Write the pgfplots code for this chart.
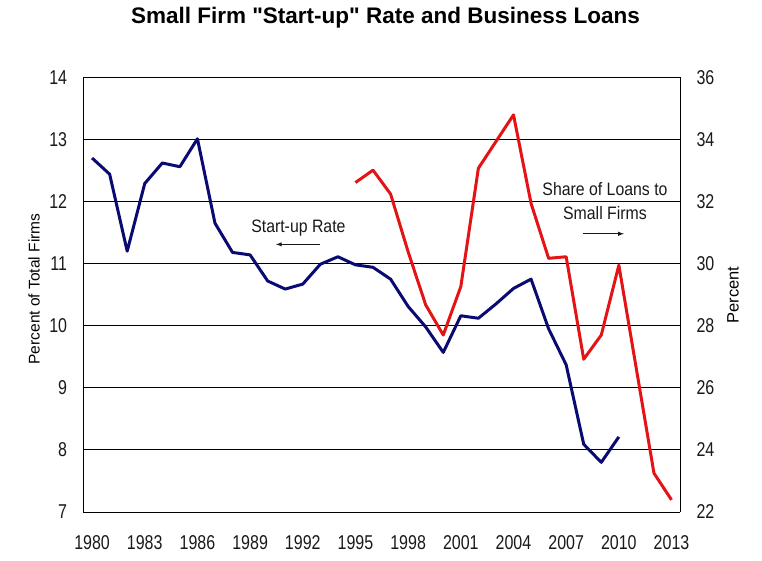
\documentclass[border=0pt]{standalone}
\usepackage{fontspec}
\setmainfont{Liberation Sans}
\newfontfamily\titlefont{Liberation Sans}
\newfontfamily\tickfont[FakeStretch=0.8]{Liberation Sans}
\newfontfamily\notefont[FakeStretch=0.88]{Liberation Sans}
\usepackage{pgfplots}
\pgfplotsset{compat=1.18}
\definecolor{navyline}{RGB}{10,10,115}
\definecolor{redline}{RGB}{228,20,22}
\definecolor{txt}{RGB}{25,25,25}
\begin{document}
\begin{tikzpicture}
\begin{axis}[
  width=597pt, height=434.7pt, scale only axis,
  xmin=1979.5, xmax=2013.5, ymin=7, ymax=14,
  xtick={1980,1983,...,2013}, ytick={7,...,14},
  axis line style={black, line width=0.9pt},
  ymajorgrids, major grid style={black, line width=0.9pt},
  major tick length=0pt,
  /pgf/number format/assume math mode=true,
  xticklabel={\pgfmathprintnumber[1000 sep={}]{\tick}},
  tick label style={font=\tickfont\fontsize{20}{21}\selectfont, text=txt, inner sep=0pt},
  yticklabel style={xshift=-16pt},
  xticklabel style={yshift=-23pt},
  axis y line*=left,
  ylabel={Percent of Total Firms},
  ylabel style={at={(axis description cs:-0.0826,0.513)}, anchor=center, font=\fontsize{15.5}{16}\selectfont, text=black},
  clip=false,
]
\addplot[navyline, line width=3pt, line join=round] coordinates {
(1980,12.70) (1981,12.44) (1982,11.20) (1983,12.29) (1984,12.62) (1985,12.56)
(1986,13.01) (1987,11.65) (1988,11.18) (1989,11.14) (1990,10.72) (1991,10.59)
(1992,10.67) (1993,10.99) (1994,11.11) (1995,10.98) (1996,10.94) (1997,10.75)
(1998,10.31) (1999,9.98) (2000,9.57) (2001,10.16) (2002,10.12) (2003,10.35)
(2004,10.60) (2005,10.75) (2006,9.95) (2007,9.37) (2008,8.09) (2009,7.80) (2010,8.21)
};
\coordinate (bl) at (rel axis cs:0,0);
\coordinate (tr) at (rel axis cs:1,1);
\coordinate (tc) at (rel axis cs:0.5,1);
\node[font=\notefont\fontsize{18}{20}\selectfont, text=txt] at (axis cs:1991.75,11.57) {Start-up Rate};
\draw[-latex, gray!20!black, line width=1pt] (axis cs:1993.0,11.31) -- (axis cs:1990.47,11.31);
\node[font=\notefont\fontsize{18}{24}\selectfont, text=txt, align=center] at (axis cs:2009.21,12.0) {Share of Loans to\\Small Firms};
\draw[-latex, gray!20!black, line width=1pt] (axis cs:2007.95,11.48) -- (axis cs:2010.29,11.48);
\end{axis}
\begin{axis}[
  width=597pt, height=434.7pt, scale only axis,
  xmin=1979.5, xmax=2013.5, ymin=22, ymax=36,
  ytick={22,24,...,36},
  axis x line=none, axis y line*=right,
  axis line style={black, line width=0.9pt},
  major tick length=0pt,
  /pgf/number format/assume math mode=true,
  tick label style={font=\tickfont\fontsize{20}{21}\selectfont, text=txt, inner sep=0pt},
  yticklabel style={xshift=16pt},
  ylabel={Percent},
  ylabel style={at={(axis description cs:1.0883,0.499)}, anchor=center, font=\fontsize{16.5}{17}\selectfont, text=black},
]
\addplot[redline, line width=3pt, line join=round] coordinates {
(1995,32.61) (1996,33.01) (1997,32.24) (1998,30.38) (1999,28.67) (2000,27.70)
(2001,29.26) (2002,33.07) (2003,33.93) (2004,34.79) (2005,31.94) (2006,30.17)
(2007,30.22) (2008,26.92) (2009,27.70) (2010,29.95) (2011,26.60) (2012,23.25) (2013,22.39)
};
\end{axis}
\node[font=\titlefont\bfseries\fontsize{22.5}{25}\selectfont, text=black] at ([shift={(3.7pt,59.3pt)}]tc) {Small Firm "Start-up" Rate and Business Loans};
\pgfresetboundingbox
\path ([shift={(-83.3pt,-49pt)}]bl) rectangle ([shift={(81.7pt,77.3pt)}]tr);
\end{tikzpicture}
\end{document}
